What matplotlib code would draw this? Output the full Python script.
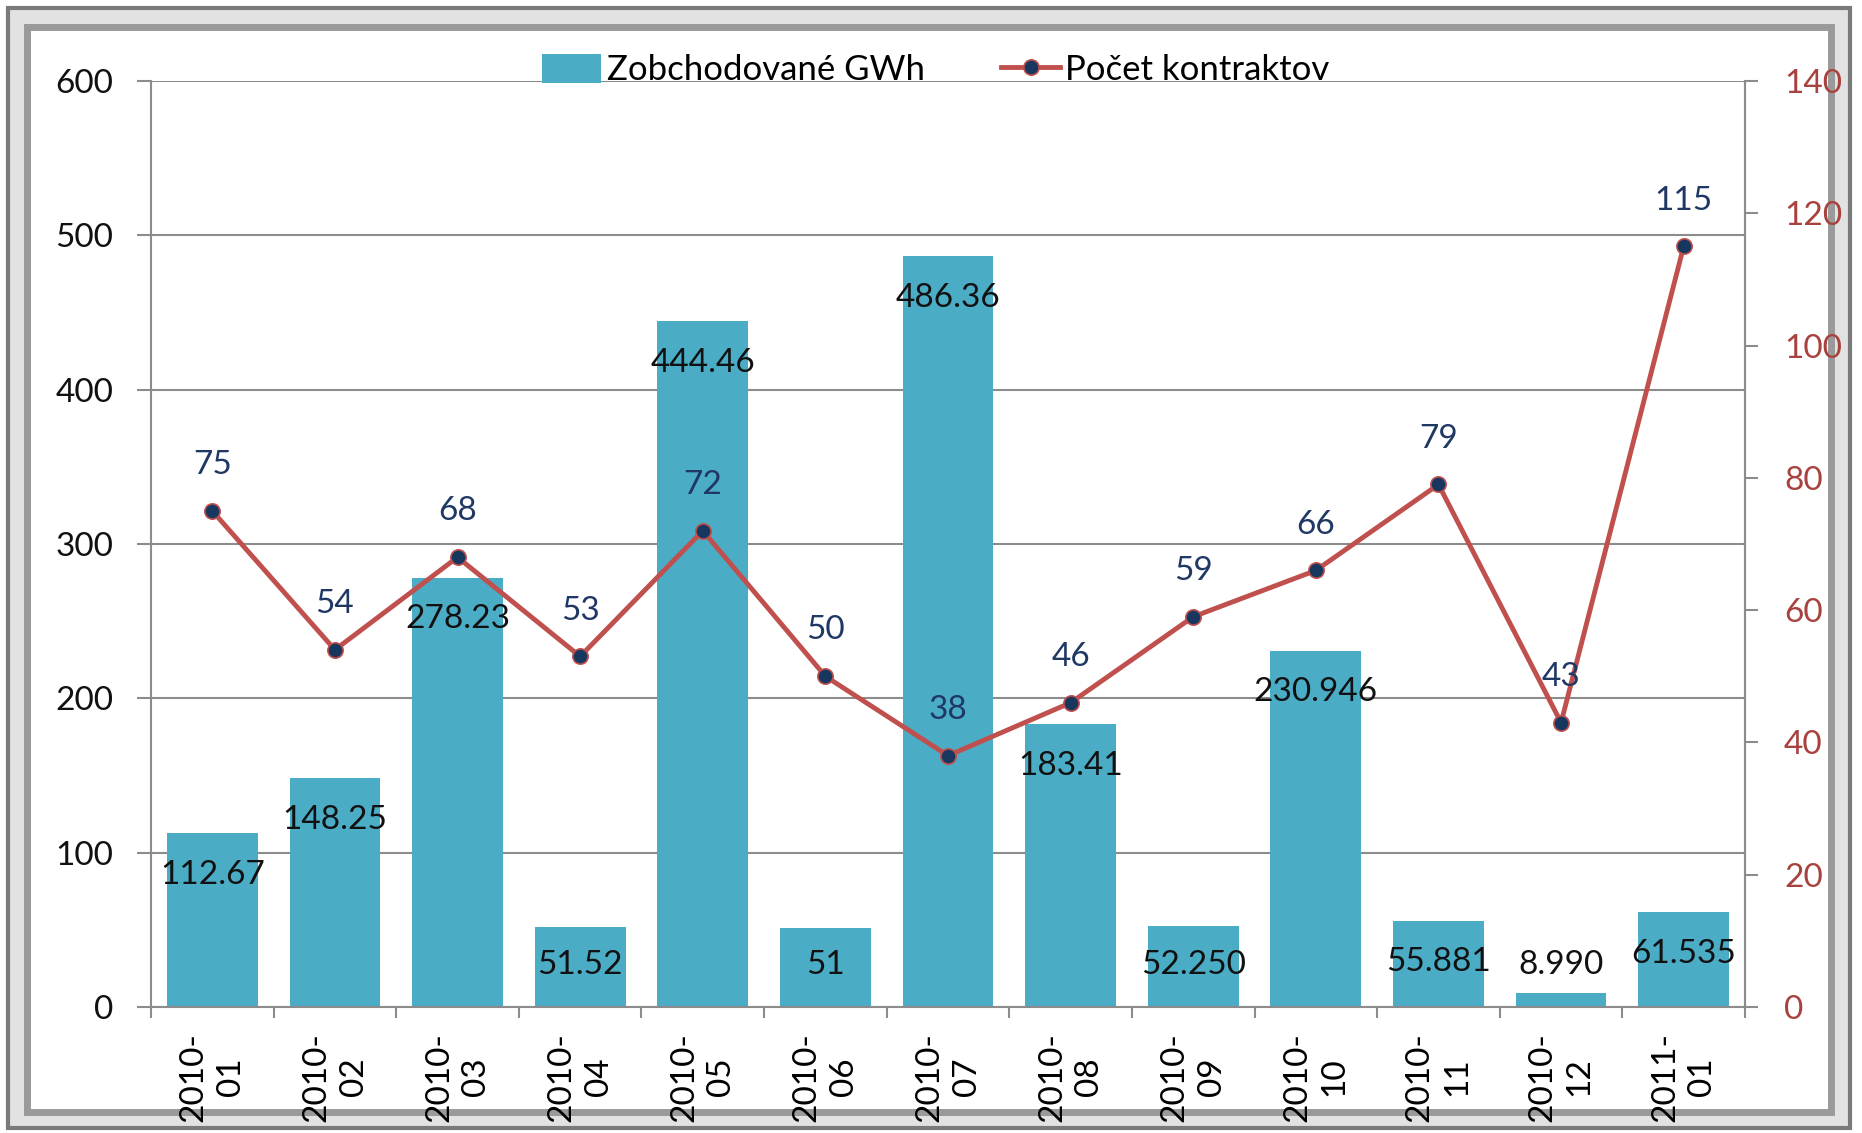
import matplotlib.pyplot as plt
from matplotlib.patches import Rectangle
import numpy as np

plt.rcParams['font.family'] = ['Lato', 'DejaVu Sans']

months = ["2010-\n01", "2010-\n02", "2010-\n03", "2010-\n04", "2010-\n05",
          "2010-\n06", "2010-\n07", "2010-\n08", "2010-\n09", "2010-\n10",
          "2010-\n11", "2010-\n12", "2011-\n01"]
gwh = [112.67, 148.25, 278.23, 51.52, 444.46, 51, 486.36, 183.41,
       52.250, 230.946, 55.881, 8.990, 61.535]
gwh_labels = ["112.67", "148.25", "278.23", "51.52", "444.46", "51", "486.36",
              "183.41", "52.250", "230.946", "55.881", "8.990", "61.535"]
contracts = [75, 54, 68, 53, 72, 50, 38, 46, 59, 66, 79, 43, 115]

bar_color = "#4BACC6"
line_color = "#C0504D"
marker_color = "#17375E"
grid_color = "#8C8C8C"

W, H = 1862, 1133
fig = plt.figure(figsize=(W / 100, H / 100), dpi=100)

# frame around the chart (pixel coords -> figure fractions)
def px_rect(x0, y0, x1, y1, **kw):
    return Rectangle((x0 / W, 1 - y1 / H), (x1 - x0) / W, (y1 - y0) / H,
                     transform=fig.transFigure, **kw)

fig.patches.append(px_rect(8, 8, 1850, 1128, facecolor="#E2E2E2",
                           edgecolor="#7A7A7A", linewidth=3, zorder=-10))
fig.patches.append(px_rect(27, 27, 1831, 1112, facecolor="white",
                           edgecolor="#9A9A9A", linewidth=5, zorder=-9))

ax = fig.add_axes([151 / W, 1 - 1007 / H, (1745 - 151) / W, (1007 - 81) / H])
ax.set_facecolor("none")
x = np.arange(len(months))

bars = ax.bar(x, gwh, width=0.74, color=bar_color, zorder=2,
              label="Zobchodované GWh")
ax.set_ylim(0, 600)
ax.set_xlim(-0.5, len(months) - 0.5)
ax.set_yticks(np.arange(0, 601, 100))
ax.yaxis.grid(True, color=grid_color, linewidth=1.5, zorder=0)
ax.set_axisbelow(True)

# bar labels: inside end, pushed up for short bars
for i, (v, s) in enumerate(zip(gwh, gwh_labels)):
    ax.annotate(s, xy=(i, max(v, 54)), xytext=(0, -30), textcoords="offset points",
                ha="center", va="center", fontsize=24, color="#111111", zorder=5)

ax.spines["top"].set_visible(False)
for side in ["left", "bottom", "right"]:
    ax.spines[side].set_color(grid_color)
    ax.spines[side].set_linewidth(1.5)

ax.set_xticks(x)
ax.set_xticklabels(months, rotation=90, fontsize=24, linespacing=1.3)
ax.set_xticks(np.arange(-0.5, len(months), 1), minor=True)
ax.tick_params(axis="x", which="major", length=0, pad=18)
ax.tick_params(axis="x", which="minor", length=8, width=1.5, color=grid_color)
ax.tick_params(axis="y", length=10, width=1.5, color=grid_color, pad=17,
               labelsize=24, labelcolor="#111111")

ax2 = ax.twinx()
ax2.set_facecolor("none")
ax2.plot(x, contracts, color=line_color, linewidth=3.5, marker="o", markersize=11,
         markerfacecolor=marker_color, markeredgecolor=line_color,
         markeredgewidth=1.2, zorder=4, label="Počet kontraktov")
ax2.set_ylim(0, 140)
ax2.set_yticks(np.arange(0, 141, 20))
ax2.tick_params(axis="y", length=9, width=1.5, color=grid_color, pad=19,
                labelsize=24, labelcolor="#A8423F")
for side in ["top", "left", "bottom"]:
    ax2.spines[side].set_visible(False)
ax2.spines["right"].set_color(grid_color)
ax2.spines["right"].set_linewidth(1.5)

for i, c in enumerate(contracts):
    ax2.annotate(str(c), xy=(i, c), xytext=(0, 33), textcoords="offset points",
                 ha="center", va="center", fontsize=24, color="#1F3864", zorder=6)

handles = [bars, ax2.get_lines()[0]]
fig.legend(handles, [h.get_label() for h in handles], loc="center",
           bbox_to_anchor=(936 / W, 1 - 70 / H), ncol=2, frameon=False,
           fontsize=25, handlelength=1.7, handleheight=0.9, handletextpad=0.15,
           columnspacing=2.2)

fig.savefig("out.png", dpi=100)
